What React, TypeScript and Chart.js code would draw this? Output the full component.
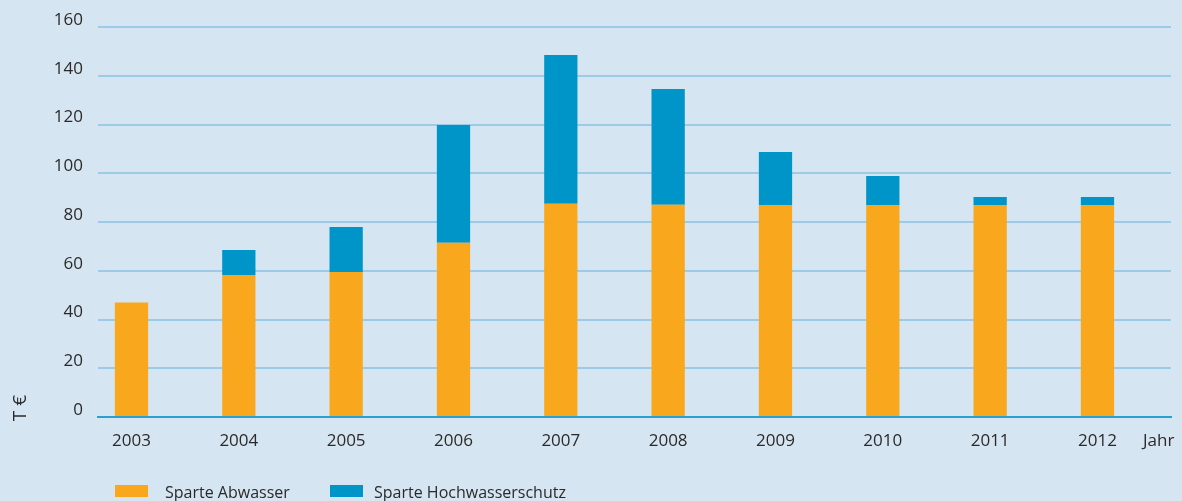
import React, { useEffect, useRef } from "react";
import { Chart, registerables } from "chart.js";

Chart.register(...registerables);

const years = ["2003", "2004", "2005", "2006", "2007", "2008", "2009", "2010", "2011", "2012"];
const abwasser = [47, 58.3, 59.5, 71.5, 87.5, 87.1, 87, 87, 87, 87];
const hochwasserschutz = [0, 10.2, 18.5, 48.3, 61, 47.5, 21.7, 11.9, 3.3, 3.3];
const yTicks = [0, 20, 40, 60, 80, 100, 120, 140, 160];

const FONT = "'Open Sans', 'Noto Sans', sans-serif";
const TEXT = "#2b2a29";
const BG = "#d5e5f2";
const ORANGE = "#f9a71c";
const BLUE = "#0095c8";

const extrasPlugin = {
  id: "extras",
  afterDraw(chart: any) {
    const ctx = chart.ctx;
    ctx.save();
    ctx.fillStyle = TEXT;
    // y title
    ctx.font = `19px ${FONT}`;
    ctx.translate(21, 408);
    ctx.rotate(-Math.PI / 2);
    ctx.textAlign = "center";
    ctx.textBaseline = "middle";
    ctx.fillText("T €", 0, 0);
    ctx.restore();

    ctx.save();
    ctx.fillStyle = TEXT;
    ctx.font = `17px ${FONT}`;
    ctx.textAlign = "left";
    ctx.textBaseline = "middle";
    ctx.fillText("Jahr", 1143, 441);

    // legend
    const items = chart.data.datasets;
    const boxX = [115, 330];
    const textX = [165, 374];
    items.forEach((ds: any, i: number) => {
      ctx.fillStyle = ds.backgroundColor;
      ctx.fillRect(boxX[i], 485, 33, 12);
      ctx.fillStyle = TEXT;
      ctx.font = `16px ${FONT}`;
      ctx.textBaseline = "alphabetic";
      ctx.fillText(ds.label, textX[i], 498);
    });
    ctx.restore();
  },
};

export default function App() {
  const ref = useRef<HTMLCanvasElement | null>(null);

  useEffect(() => {
    document.body.style.margin = "0";
    document.body.style.background = BG;
    const canvas = ref.current!;
    const chart = new Chart(canvas, {
      type: "bar",
      data: {
        datasets: [
          {
            label: "Sparte Abwasser",
            data: abwasser.map((v, i) => ({ x: i, y: v })),
            backgroundColor: ORANGE,
            borderWidth: 0,
            barPercentage: 0.31,
            categoryPercentage: 1,
          },
          {
            label: "Sparte Hochwasserschutz",
            data: hochwasserschutz.map((v, i) => ({ x: i, y: v })),
            backgroundColor: BLUE,
            borderWidth: 0,
            barPercentage: 0.31,
            categoryPercentage: 1,
          },
        ],
      },
      options: {
        animation: false,
        responsive: false,
        maintainAspectRatio: false,
        layout: { padding: { left: 0, right: 11, top: 27, bottom: 0 } },
        plugins: {
          legend: { display: false },
          tooltip: { enabled: false },
        },
        scales: {
          x: {
            type: "linear",
            stacked: true,
            offset: false,
            bounds: "data",
            min: -0.312,
            max: 9.685,
            grid: { display: false, drawTicks: false, offset: false },
            border: { display: true, color: "#2a9fd0", width: 2 },
            afterBuildTicks: (scale: any) => {
              scale.ticks = years.map((_, i) => ({ value: i }));
            },
            afterFit: (scale: any) => {
              scale.height = 84;
            },
            ticks: {
              autoSkip: false,
              maxRotation: 0,
              padding: 14,
              color: TEXT,
              font: { family: FONT, size: 17 },
              callback: (v: any) => years[Math.round(Number(v))] ?? "",
            },
          },
          y: {
            stacked: true,
            min: 0,
            max: 160,
            afterBuildTicks: (scale: any) => {
              scale.ticks = yTicks.map((v) => ({ value: v }));
            },
            afterFit: (scale: any) => {
              scale.width = 98;
            },
            grid: {
              drawTicks: false,
              color: "#9ccbe7",
              lineWidth: 2,
            },
            border: { display: false },
            ticks: {
              padding: 15,
              labelOffset: -7,
              color: TEXT,
              font: { family: FONT, size: 17 },
            },
          },
        },
      },
      plugins: [extrasPlugin],
    } as any);
    return () => chart.destroy();
  }, []);

  return (
    <div style={{ position: "absolute", left: 0, top: 0, width: 1182, height: 501, background: BG }}>
      <canvas ref={ref} width={1182} height={501} style={{ display: "block", width: 1182, height: 501 }} />
    </div>
  );
}
